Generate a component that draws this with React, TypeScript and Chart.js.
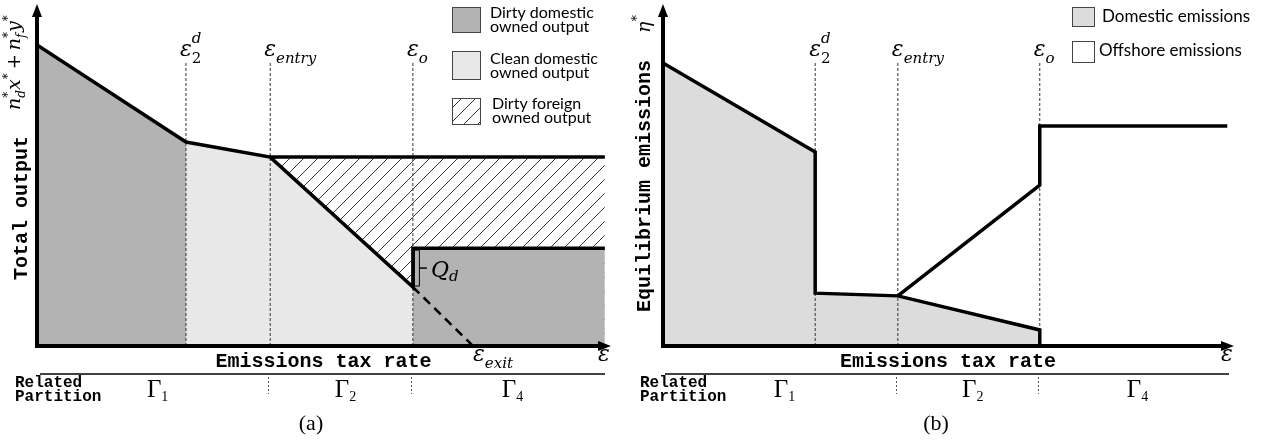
import React, { useEffect, useRef } from "react";
import { Chart, registerables } from "chart.js";
Chart.register(...registerables);

// ---------- Panel (a): total output ----------
const thresholdsA = [26.0, 40.7, 65.6]; // eps2^d, eps_entry, eps_o
const exitA = 76.1;
const totalOutputX = [0, 26.0, 40.7, 65.6, 65.6, 99.1];
const totalOutputY = [88.3, 59.8, 55.4, 17.3, 28.7, 28.7];
const dirtyDomX1 = [0, 26.0];
const dirtyDomY1 = [88.3, 59.8];
const cleanDomX = [26.0, 40.7, 65.6];
const cleanDomY = [59.8, 55.4, 17.3];
const foreignTopX = [40.7, 99.1];
const foreignTopY = [55.4, 55.4];
const dirtyDomX4 = [65.6, 99.1];
const dirtyDomY4 = [28.7, 28.7];
const exitLineX = [65.6, exitA];
const exitLineY = [17.3, 0];

// ---------- Panel (b): equilibrium emissions ----------
const thresholdsB = [26.7, 41.2, 66.1];
const domesticX = [0, 26.7, 26.7, 41.2, 66.1, 66.1];
const domesticY = [83.0, 56.9, 15.5, 14.7, 4.7, 0];
const offshoreX = [41.2, 66.1, 66.1, 99.0];
const offshoreY = [14.7, 47.2, 64.5, 64.5];

const guideTop = 83;
const partitionNames = ["1", "2", "4"];
const legendA = [
  ["Dirty domestic", "owned output"],
  ["Clean domestic", "owned output"],
  ["Dirty foreign", "owned output"],
];
const legendB = ["Domestic emissions", "Offshore emissions"];

const DIRTY = "#b3b3b3";
const CLEAN = "#e8e8e8";
const DOMESTIC = "#dcdcdc";

const MATH = "'DejaVu Serif'";
const mathI = (s: number) => `italic ${s}px ${MATH}`;
const mathR = (s: number) => `${s}px ${MATH}`;
const monoB = (s: number) => `bold ${s}px 'Liberation Mono'`;
const serif = (s: number) => `${s}px 'Liberation Serif'`;
const sans = (s: number) => `${s}px Lato`;

const pts = (xs: number[], ys: number[]) => xs.map((x, i) => ({ x, y: ys[i] }));

type Run = { t: string; f: string; dy?: number; stack?: boolean; gap?: number };
function drawRuns(ctx: CanvasRenderingContext2D, runs: Run[], x: number, y: number, dry = false) {
  let cx = x;
  let stackW = 0;
  for (const r of runs) {
    ctx.font = r.f;
    if (!dry) ctx.fillText(r.t, cx, y + (r.dy || 0));
    const w = ctx.measureText(r.t).width;
    if (r.stack) {
      stackW = w;
    } else {
      cx += Math.max(w, stackW) + (r.gap || 0);
      stackW = 0;
    }
  }
  return cx - x;
}

const eps = (sub?: string, sup?: string, subUpright = false): Run[] => {
  const runs: Run[] = [{ t: "ε", f: mathI(22) }];
  if (sup) runs.push({ t: sup, f: mathI(15), dy: -13, stack: true });
  if (sub) runs.push({ t: sub, f: subUpright ? mathR(15) : mathI(15), dy: 7 });
  return runs;
};

function makeHatch(): CanvasPattern | string {
  const c = document.createElement("canvas");
  c.width = 14;
  c.height = 14;
  const g = c.getContext("2d");
  if (!g) return "#ccc";
  g.fillStyle = "#fff";
  g.fillRect(0, 0, 14, 14);
  g.strokeStyle = "#3a3a3a";
  g.lineWidth = 1;
  g.beginPath();
  g.moveTo(0, 14);
  g.lineTo(14, 0);
  g.moveTo(-7, 7);
  g.lineTo(7, -7);
  g.moveTo(7, 21);
  g.lineTo(21, 7);
  g.stroke();
  return g.createPattern(c, "repeat") || "#ccc";
}

function drawAxes(ctx: CanvasRenderingContext2D, ca: any) {
  ctx.save();
  ctx.strokeStyle = "#000";
  ctx.fillStyle = "#000";
  ctx.lineWidth = 4;
  ctx.beginPath();
  ctx.moveTo(ca.left, ca.bottom + 2);
  ctx.lineTo(ca.left, ca.top + 10);
  ctx.moveTo(ca.left - 2, ca.bottom);
  ctx.lineTo(ca.right - 10, ca.bottom);
  ctx.stroke();
  ctx.beginPath();
  ctx.moveTo(ca.left, ca.top - 1);
  ctx.lineTo(ca.left - 5, ca.top + 12);
  ctx.lineTo(ca.left + 5, ca.top + 12);
  ctx.closePath();
  ctx.fill();
  ctx.beginPath();
  ctx.moveTo(ca.right + 1, ca.bottom);
  ctx.lineTo(ca.right - 12, ca.bottom - 5);
  ctx.lineTo(ca.right - 12, ca.bottom + 5);
  ctx.closePath();
  ctx.fill();
  ctx.restore();
}

function drawCommon(
  ctx: CanvasRenderingContext2D,
  chart: any,
  thresholds: number[],
  offset: number,
  lineFrom: number,
  lineTo: number,
  partLabelX: number,
  panelLabel: string,
  panelLabelX: number
) {
  const xs = chart.scales.x;
  const ca = chart.chartArea;
  ctx.save();
  ctx.fillStyle = "#000";
  ctx.textBaseline = "alphabetic";
  ctx.textAlign = "left";
  // top threshold labels
  const topLabels = [eps("2", "d", true), eps("entry"), eps("o")];
  thresholds.forEach((t, i) => {
    drawRuns(ctx, topLabels[i], xs.getPixelForValue(t) - 6, 56);
  });
  // x axis title
  ctx.font = monoB(20);
  ctx.textAlign = "center";
  ctx.fillText("Emissions tax rate", (ca.left + ca.right) / 2, 367);
  ctx.textAlign = "left";
  // eps at end of axis
  drawRuns(ctx, eps(), ca.right - 12, 361);
  // partition line
  ctx.strokeStyle = "#000";
  ctx.lineWidth = 1.5;
  ctx.beginPath();
  ctx.moveTo(lineFrom - offset, 374);
  ctx.lineTo(lineTo - offset, 374);
  ctx.stroke();
  ctx.font = monoB(16);
  ctx.fillText("Related", partLabelX - offset, 387);
  ctx.fillText("Partition", partLabelX - offset, 401);
  // separators
  ctx.lineWidth = 1;
  ctx.strokeStyle = "#555";
  ctx.setLineDash([2, 2]);
  ctx.beginPath();
  [thresholds[1], thresholds[2]].forEach((t) => {
    const px = Math.round(xs.getPixelForValue(t)) - 1.5;
    ctx.moveTo(px, 377);
    ctx.lineTo(px, 394);
  });
  ctx.stroke();
  ctx.setLineDash([]);
  // Gamma labels
  const bounds = [0, thresholds[1], thresholds[2], 99];
  partitionNames.forEach((n, i) => {
    const mid = (xs.getPixelForValue(bounds[i]) + xs.getPixelForValue(bounds[i + 1])) / 2;
    const runs: Run[] = [
      { t: "Γ", f: serif(25) },
      { t: n, f: serif(14), dy: 4 },
    ];
    const w = drawRuns(ctx, runs, 0, 0, true);
    drawRuns(ctx, runs, mid - w / 2 + 4, 397);
  });
  // panel label
  ctx.font = serif(22);
  ctx.textAlign = "center";
  ctx.fillText(panelLabel, panelLabelX - offset, 430);
  ctx.restore();
}

const plotPluginA = {
  id: "decorA",
  afterDraw(chart: any) {
    const ctx: CanvasRenderingContext2D = chart.ctx;
    const xs = chart.scales.x;
    const ys = chart.scales.y;
    const ca = chart.chartArea;
    drawAxes(ctx, ca);
    drawCommon(ctx, chart, thresholdsA, 0, 40, 605, 15, "(a)", 311);
    ctx.save();
    ctx.fillStyle = "#000";
    // eps_exit
    drawRuns(ctx, eps("exit"), xs.getPixelForValue(exitA), 361);
    // Q_d bracket
    const bx = xs.getPixelForValue(dirtyDomX4[0]);
    const yTop = ys.getPixelForValue(dirtyDomY4[0]) + 2;
    const yBot = ys.getPixelForValue(cleanDomY[2]) - 1;
    ctx.strokeStyle = "#000";
    ctx.lineWidth = 1;
    ctx.strokeRect(bx + 1.5, yTop, 5, yBot - yTop);
    ctx.lineWidth = 1.5;
    ctx.beginPath();
    ctx.moveTo(bx + 6.5, (yTop + yBot) / 2);
    ctx.lineTo(bx + 14, (yTop + yBot) / 2);
    ctx.stroke();
    drawRuns(
      ctx,
      [
        { t: "Q", f: mathI(22) },
        { t: "d", f: mathI(15), dy: 4 },
      ],
      bx + 18,
      (yTop + yBot) / 2 + 9
    );
    // Y title
    ctx.save();
    ctx.translate(27, 280);
    ctx.rotate(-Math.PI / 2);
    ctx.font = monoB(20);
    ctx.fillText("Total output", 0, 0);
    drawRuns(
      ctx,
      [
        { t: "n", f: mathI(19) },
        { t: "*", f: mathR(12), dy: -8, stack: true },
        { t: "d", f: mathI(12), dy: 5 },
        { t: "x", f: mathI(19) },
        { t: "*", f: mathR(12), dy: -8, gap: 4 },
        { t: "+", f: mathR(18), gap: 4 },
        { t: "n", f: mathI(19) },
        { t: "*", f: mathR(12), dy: -8, stack: true },
        { t: "f", f: mathI(12), dy: 5 },
        { t: "y", f: mathI(19) },
        { t: "*", f: mathR(12), dy: -8 },
      ],
      170,
      -7
    );
    ctx.restore();
    // Legend
    const fills: (string | CanvasPattern)[] = [DIRTY, CLEAN, chart.$hatch];
    const boxes = [
      [452, 7, 28, 25],
      [452, 51, 28, 28],
      [452, 98, 28, 26],
    ];
    const base = [18, 64, 109];
    boxes.forEach((b, i) => {
      ctx.fillStyle = fills[i] as any;
      ctx.fillRect(b[0], b[1], b[2], b[3]);
      ctx.strokeStyle = "#444";
      ctx.lineWidth = 1;
      ctx.strokeRect(b[0] + 0.5, b[1] + 0.5, b[2], b[3]);
      ctx.fillStyle = "#000";
      ctx.font = sans(16);
      ctx.fillText(legendA[i][0], i === 2 ? 492 : 490, base[i]);
      ctx.fillText(legendA[i][1], i === 2 ? 492 : 490, base[i] + 14);
    });
    ctx.restore();
  },
};

const OFF_B = 615;
const WIDTH_B = 659;
const plotPluginB = {
  id: "decorB",
  afterDraw(chart: any) {
    const ctx: CanvasRenderingContext2D = chart.ctx;
    const ca = chart.chartArea;
    drawAxes(ctx, ca);
    drawCommon(ctx, chart, thresholdsB, OFF_B, 665, 1229, 640, "(b)", 936);
    ctx.save();
    ctx.fillStyle = "#000";
    // Y title
    ctx.save();
    ctx.translate(650 - OFF_B, 312);
    ctx.rotate(-Math.PI / 2);
    ctx.font = monoB(20);
    ctx.fillText("Equilibrium emissions", 0, 0);
    drawRuns(
      ctx,
      [
        { t: "η", f: mathI(19) },
        { t: "*", f: mathR(13), dy: -9 },
      ],
      279,
      0
    );
    ctx.restore();
    // Legend
    const boxes = [
      [1072, 7, 22, 19],
      [1072, 41, 22, 21],
    ];
    const fills = [DOMESTIC, "#fff"];
    const base = [22, 56];
    const tx = [1102, 1099];
    boxes.forEach((b, i) => {
      ctx.fillStyle = fills[i];
      ctx.fillRect(b[0] - OFF_B, b[1], b[2], b[3]);
      ctx.strokeStyle = "#444";
      ctx.lineWidth = 1;
      ctx.strokeRect(b[0] - OFF_B + 0.5, b[1] + 0.5, b[2], b[3]);
      ctx.fillStyle = "#000";
      ctx.font = sans(17);
      ctx.fillText(legendB[i], tx[i] - OFF_B, base[i]);
    });
    ctx.restore();
  },
};

const baseScales = {
  x: { type: "linear", min: 0, max: 100, display: false },
  y: { type: "linear", min: 0, max: 100, display: false },
};

function guideSets(th: number[]) {
  return th.map((t) => ({
    data: [
      { x: t, y: 0 },
      { x: t, y: guideTop },
    ],
    borderColor: "#333",
    borderWidth: 1,
    borderDash: [3, 2],
    pointRadius: 0,
    fill: false,
    order: 5,
  }));
}

export default function App() {
  const refA = useRef<HTMLCanvasElement>(null);
  const refB = useRef<HTMLCanvasElement>(null);

  useEffect(() => {
    const hatch = makeHatch();
    const lineBase = {
      pointRadius: 0,
      tension: 0,
      borderJoinStyle: "miter",
      borderCapStyle: "butt",
    };
    const chartA = new Chart(refA.current as HTMLCanvasElement, {
      type: "line",
      data: {
        datasets: [
          { ...lineBase, data: pts(foreignTopX, foreignTopY), fill: "origin", backgroundColor: hatch, borderWidth: 0, order: 10 },
          { ...lineBase, data: pts(dirtyDomX1, dirtyDomY1), fill: "origin", backgroundColor: DIRTY, borderWidth: 0, order: 9 },
          { ...lineBase, data: pts(cleanDomX, cleanDomY), fill: "origin", backgroundColor: CLEAN, borderWidth: 0, order: 9 },
          { ...lineBase, data: pts(dirtyDomX4, dirtyDomY4), fill: "origin", backgroundColor: DIRTY, borderWidth: 0, order: 9 },
          ...guideSets(thresholdsA),
          { ...lineBase, data: pts(foreignTopX, foreignTopY), fill: false, borderColor: "#000", borderWidth: 3.5, order: 2 },
          { ...lineBase, data: pts(totalOutputX, totalOutputY), fill: false, borderColor: "#000", borderWidth: 3.5, order: 1 },
          { ...lineBase, data: pts(exitLineX, exitLineY), fill: false, borderColor: "#000", borderWidth: 2.5, borderDash: [9, 6], order: 1 },
        ] as any,
      },
      options: {
        animation: false,
        responsive: false,
        maintainAspectRatio: false,
        events: [],
        layout: { padding: { left: 37, right: 27, top: 5, bottom: 99 } },
        scales: baseScales as any,
        plugins: { legend: { display: false }, tooltip: { enabled: false } },
      },
      plugins: [plotPluginA],
    });
    (chartA as any).$hatch = hatch;
    chartA.draw();

    const chartB = new Chart(refB.current as HTMLCanvasElement, {
      type: "line",
      data: {
        datasets: [
          { ...lineBase, data: pts(domesticX, domesticY), fill: "origin", backgroundColor: DOMESTIC, borderWidth: 0, order: 9 },
          ...guideSets(thresholdsB),
          { ...lineBase, data: pts(domesticX, domesticY), fill: false, borderColor: "#000", borderWidth: 3.5, order: 1 },
          { ...lineBase, data: pts(offshoreX, offshoreY), fill: false, borderColor: "#000", borderWidth: 3.5, order: 1 },
        ] as any,
      },
      options: {
        animation: false,
        responsive: false,
        maintainAspectRatio: false,
        events: [],
        layout: { padding: { left: 663 - OFF_B, right: WIDTH_B - (1233 - OFF_B), top: 5, bottom: 99 } },
        scales: baseScales as any,
        plugins: { legend: { display: false }, tooltip: { enabled: false } },
      },
      plugins: [plotPluginB],
    });

    return () => {
      chartA.destroy();
      chartB.destroy();
    };
  }, []);

  return (
    <div style={{ position: "fixed", left: 0, top: 0, width: 1274, height: 445, background: "#fff" }}>
      <canvas ref={refA} width={637} height={445} style={{ position: "absolute", left: 0, top: 0, width: 637, height: 445 }} />
      <canvas ref={refB} width={WIDTH_B} height={445} style={{ position: "absolute", left: OFF_B, top: 0, width: WIDTH_B, height: 445 }} />
    </div>
  );
}
